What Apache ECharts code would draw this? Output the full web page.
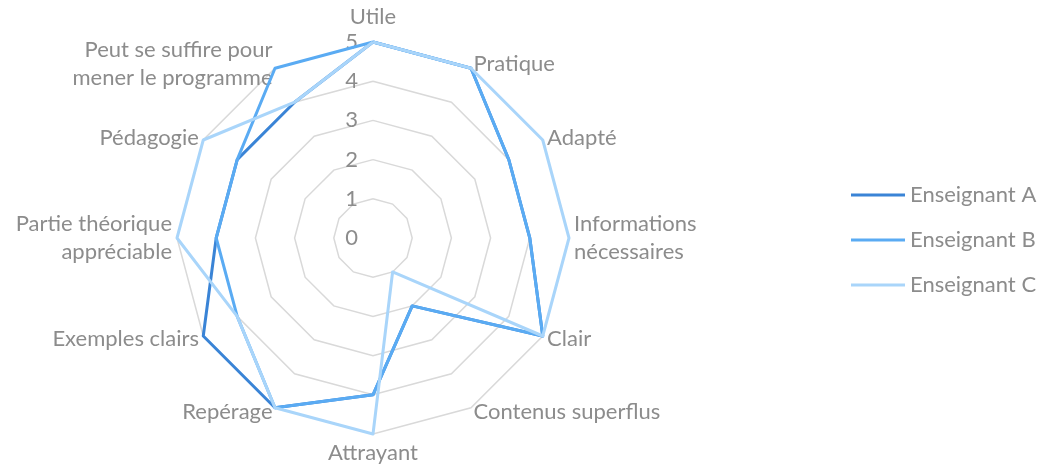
<!DOCTYPE html>
<html>
<head>
    <meta charset="utf-8">
    <title>Radar enseignants</title>
    <script src="https://cdn.jsdelivr.net/npm/echarts@6/dist/echarts.min.js"></script>
    <style>
        html, body { margin: 0; padding: 0; background: #fff; }
        #chart { width: 1042px; height: 470px; }
    </style>
</head>
<body>
<div id="chart"></div>
<script>
    // axes, dans le sens des aiguilles d'une montre depuis le haut
    var criteres = ['Utile', 'Pratique', 'Adapté', 'Informations\nnécessaires', 'Clair',
        'Contenus superflus', 'Attrayant', 'Repérage', 'Exemples clairs',
        'Partie théorique\nappréciable', 'Pédagogie', 'Peut se suffire pour\nmener le programme'];
    var enseignantA = [5, 5, 4, 4, 5, 2, 4, 5, 5, 4, 4, 4];
    var enseignantB = [5, 5, 4, 4, 5, 2, 4, 5, 4, 4, 4, 5];
    var enseignantC = [5, 5, 5, 5, 5, 1, 5, 5, 4, 5, 5, 4];
    var noms = ['Enseignant A', 'Enseignant B', 'Enseignant C'];
    var couleurs = ['#3a84d6', '#5aabf3', '#a9d5fa'];

    var font = 'Lato, "Open Sans", sans-serif';
    var chart = echarts.init(document.getElementById('chart'));

    // echarts tourne dans le sens inverse : on garde le premier axe et on inverse le reste
    function sensHoraire(arr) {
        return [arr[0]].concat(arr.slice(1).reverse());
    }

    var indicateurs = sensHoraire(criteres).map(function (c, i) {
        var ind = { name: c, min: 0, max: 5 };
        if (i === 0) {
            // graduations seulement sur l'axe du haut
            ind.axisLabel = { show: true };
        }
        return ind;
    });

    var option = {
        animation: false,
        color: couleurs,
        legend: {
            orient: 'vertical',
            left: 846,
            top: 179,
            itemWidth: 54,
            itemHeight: 3,
            itemGap: 23,
            icon: 'rect',
            textStyle: { color: '#8c8c8c', fontSize: 22, fontFamily: font },
            data: noms
        },
        radar: {
            center: [373, 238],
            radius: 196,
            startAngle: 90,
            splitNumber: 5,
            shape: 'polygon',
            indicator: indicateurs,
            axisName: { color: '#8c8c8c', fontSize: 22, fontFamily: font, lineHeight: 28 },
            nameGap: 5,
            axisLine: { show: false },
            axisTick: { show: false },
            axisLabel: {
                show: false,
                color: '#8c8c8c',
                fontSize: 22,
                fontFamily: font,
                margin: 15,
                showMinLabel: true
            },
            splitLine: { lineStyle: { color: '#d9d9d9', width: 1.5 } },
            splitArea: { show: false }
        },
        series: [{
            type: 'radar',
            symbol: 'none',
            lineStyle: { width: 3 },
            data: [
                { name: noms[0], value: sensHoraire(enseignantA), lineStyle: { color: couleurs[0], width: 3 } },
                { name: noms[1], value: sensHoraire(enseignantB), lineStyle: { color: couleurs[1], width: 3 } },
                { name: noms[2], value: sensHoraire(enseignantC), lineStyle: { color: couleurs[2], width: 3 } }
            ]
        }]
    };
    chart.setOption(option);
</script>
</body>
</html>
